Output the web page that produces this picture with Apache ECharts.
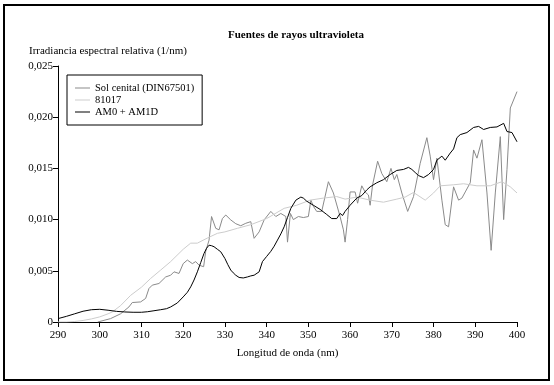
<!DOCTYPE html>
<html>
<head>
<meta charset="utf-8">
<title>Fuentes de rayos ultravioleta</title>
<script src="https://cdn.jsdelivr.net/npm/echarts@6/dist/echarts.min.js"></script>
<style>
  html, body { margin: 0; padding: 0; background: #fff; }
  #chart { width: 554px; height: 385px; }
</style>
</head>
<body>
<div id="chart"></div>
<script>
// Sol cenital (DIN67501)
var solNm = [299.5, 302.6, 305, 307, 307.8, 309.8, 311, 311.8, 312.6, 314.2, 315.8, 317, 317.8, 319, 320, 321, 322.2, 323, 323.8, 324.9,
  325.4, 326.2, 326.8, 327.8, 328.6, 329.4, 330.2, 331.4, 332.6, 333.8, 335, 336.2, 337, 338.2, 339.4, 341, 342.2, 343.4, 344.6, 345,
  345.7, 346.4, 347.6, 348.8, 350, 350.6, 351.2, 352, 353.2, 354.8, 356, 357.6, 358.4, 358.8, 359.4, 360, 361.2, 361.8, 362.8, 363.6,
  364.4, 364.8, 365.4, 366.6, 367.6, 368.8, 369.8, 370.6, 371.2, 372.4, 373.8, 375.2, 376.8, 378.4, 379.2, 380, 380.8, 382, 382.8, 383.6,
  384.8, 386, 386.8, 387.6, 388.8, 389.6, 390.4, 391.6, 392.8, 393.8, 394.8, 396, 396.8, 397.6, 398.4, 400];
var solVal = [0, 0.00033, 0.00080, 0.00147, 0.00190, 0.00196, 0.00230, 0.00327, 0.00360, 0.00376, 0.00440, 0.00457, 0.00490, 0.00474, 0.00570, 0.00605, 0.00570, 0.00590, 0.00555, 0.00540,
  0.00690, 0.00800, 0.01030, 0.00915, 0.00900, 0.01010, 0.01045, 0.00997, 0.00960, 0.00940, 0.00964, 0.00980, 0.00817, 0.00880, 0.00997, 0.01080, 0.01030, 0.01060, 0.01030, 0.00780,
  0.01060, 0.01000, 0.01030, 0.01020, 0.01030, 0.01190, 0.01130, 0.01080, 0.01080, 0.01370, 0.01260, 0.01030, 0.00900, 0.00780, 0.01000, 0.01270, 0.01270, 0.01160, 0.01330, 0.01270,
  0.01240, 0.01140, 0.01340, 0.01570, 0.01450, 0.01370, 0.01500, 0.01390, 0.01440, 0.01260, 0.01080, 0.01225, 0.01550, 0.01800, 0.01620, 0.01390, 0.01600, 0.01190, 0.00950, 0.00930,
  0.01320, 0.01190, 0.01210, 0.01270, 0.01360, 0.01680, 0.01600, 0.01780, 0.01260, 0.00700, 0.01260, 0.01810, 0.01000, 0.01490, 0.02090, 0.02250];

// 81017
var lampNm = [290, 292, 294, 296, 298, 300, 302, 303, 305, 307.4, 310, 312.2, 314.6, 317, 320, 321.8, 323.4, 325.8, 328.2, 330,
  333, 336.2, 340, 344.2, 347.2, 350.4, 353.6, 356.8, 358.8, 361.6, 364.8, 368, 371.2, 373.2, 375.2, 378, 380, 381.6, 384.8, 387.2,
  390.4, 393.6, 396.4, 398.4, 400];
var lampVal = [0, 0, 0.00005, 0.00015, 0.00030, 0.00050, 0.00080, 0.00098, 0.00160, 0.00260, 0.00340, 0.00425, 0.00507, 0.00590, 0.00710, 0.00770, 0.00770, 0.00820, 0.00866, 0.00880,
  0.00915, 0.00950, 0.01010, 0.01110, 0.01140, 0.01190, 0.01210, 0.01225, 0.01200, 0.01220, 0.01190, 0.01170, 0.01200, 0.01220, 0.01265, 0.01190, 0.01260, 0.01330, 0.01340, 0.01350,
  0.01330, 0.01330, 0.01370, 0.01320, 0.01260];

// AM0 + AM1D
var amNm = [290, 292, 294, 296, 298, 300, 302, 304, 306, 308, 310, 311.4, 313, 314.6, 316, 317, 318.6, 320, 321, 321.8,
  322.6, 323.4, 324.2, 325, 325.6, 326.2, 326.8, 327.4, 328.2, 329, 330, 330.7, 331.4, 332, 332.6, 333.4, 334.4, 335.4, 336.2, 337,
  338.2, 339, 340, 341, 341.8, 342.6, 343.4, 344.2, 345, 345.8, 347, 348.2, 348.8, 349.6, 351.2, 352.8, 354.4, 355.6, 356.8, 357.6,
  358.2, 358.8, 360, 361.6, 362.8, 364, 364.8, 366.4, 368, 369.6, 371.2, 372.8, 374, 374.8, 375.6, 376.4, 377.6, 378.8, 380, 380.8,
  382, 382.8, 384, 384.8, 385.6, 386.4, 388, 389.6, 390.8, 392, 393.6, 395.2, 396.8, 397.6, 398.8, 400];
var amVal = [0.00033, 0.00055, 0.00080, 0.00105, 0.00120, 0.00124, 0.00115, 0.00104, 0.00098, 0.00095, 0.00095, 0.00100, 0.00110, 0.00120, 0.00130, 0.00147, 0.00186, 0.00245, 0.00290, 0.00343,
  0.00410, 0.00490, 0.00580, 0.00670, 0.00720, 0.00750, 0.00745, 0.00735, 0.00710, 0.00686, 0.00620, 0.00560, 0.00507, 0.00480, 0.00457, 0.00435, 0.00430, 0.00440, 0.00450, 0.00457,
  0.00490, 0.00590, 0.00640, 0.00690, 0.00740, 0.00800, 0.00860, 0.00930, 0.01020, 0.01110, 0.01190, 0.01220, 0.01210, 0.01180, 0.01140, 0.01100, 0.01050, 0.01010, 0.01010, 0.01060,
  0.01040, 0.01080, 0.01140, 0.01210, 0.01235, 0.01290, 0.01320, 0.01360, 0.01390, 0.01440, 0.01480, 0.01490, 0.01510, 0.01490, 0.01460, 0.01430, 0.01410, 0.01440, 0.01490, 0.01580,
  0.01620, 0.01580, 0.01650, 0.01690, 0.01800, 0.01830, 0.01850, 0.01900, 0.01910, 0.01880, 0.01900, 0.01905, 0.01940, 0.01860, 0.01850, 0.01760];

var seriesNames = ["Sol cenital (DIN67501)", "81017", "AM0 + AM1D"];
var seriesColors = ["#8a8a8a", "#cccccc", "#000000"];

var FONT = "Liberation Serif";

function pairs(xs, ys) {
  return xs.map(function (x, i) { return [x, ys[i]]; });
}

function lineSeries(idx, data) {
  return {
    name: seriesNames[idx],
    type: "line",
    data: data,
    showSymbol: false,
    symbol: "none",
    silent: true,
    animation: false,
    lineStyle: { color: seriesColors[idx], width: 1 },
    itemStyle: { color: seriesColors[idx] },
  };
}

var myChart = echarts.init(document.getElementById("chart"), null, { renderer: "canvas" });
var option = {
  backgroundColor: "#fff",
  animation: false,
  textStyle: { fontFamily: FONT, color: "#000" },
  title: [
    {
      text: "Fuentes de rayos ultravioleta",
      left: 223,
      top: 25,
      textStyle: { fontFamily: FONT, fontSize: 11, fontWeight: "bold", color: "#000" },
    },
    {
      text: "Irradiancia espectral relativa (1/nm)",
      left: 24,
      top: 41,
      textStyle: { fontFamily: FONT, fontSize: 11, fontWeight: "normal", color: "#000" },
    },
  ],
  legend: {
    orient: "vertical",
    left: 67,
    top: 75,
    padding: [7, 8, 7, 8],
    itemGap: 0,
    itemWidth: 15,
    itemHeight: 1,
    icon: "rect",
    borderColor: "#000",
    borderWidth: 1,
    textStyle: { fontFamily: FONT, fontSize: 10.5, color: "#000", lineHeight: 12 },
    data: seriesNames,
  },
  grid: { left: 58, right: 37, top: 66, bottom: 63 },
  xAxis: {
    type: "value",
    min: 290,
    max: 400,
    interval: 10,
    name: "Longitud de onda (nm)",
    nameLocation: "middle",
    nameGap: 26,
    nameTextStyle: { fontFamily: FONT, fontSize: 11, color: "#000" },
    axisLine: { lineStyle: { color: "#000", width: 1 } },
    axisTick: { length: 5, lineStyle: { color: "#000" } },
    axisLabel: { fontFamily: FONT, fontSize: 11, color: "#000", margin: 8 },
    splitLine: { show: false },
  },
  yAxis: {
    type: "value",
    min: 0,
    max: 0.025,
    interval: 0.005,
    axisLine: { show: true, lineStyle: { color: "#000", width: 1 } },
    axisTick: { show: true, length: 5, lineStyle: { color: "#000" } },
    axisLabel: {
      fontFamily: FONT,
      fontSize: 11,
      color: "#000",
      margin: 5,
      formatter: function (v) {
        return v === 0 ? "0" : v.toFixed(3).replace(".", ",");
      },
    },
    splitLine: { show: false },
  },
  graphic: [
    {
      type: "rect",
      shape: { x: 4, y: 5, width: 545, height: 375 },
      style: { fill: null, stroke: "#000", lineWidth: 2 },
      silent: true,
    },
  ],
  series: [
    lineSeries(0, pairs(solNm, solVal)),
    lineSeries(1, pairs(lampNm, lampVal)),
    lineSeries(2, pairs(amNm, amVal)),
  ],
};
myChart.setOption(option);
window.addEventListener("resize", function () {
  myChart.resize();
});
</script>
</body>
</html>
